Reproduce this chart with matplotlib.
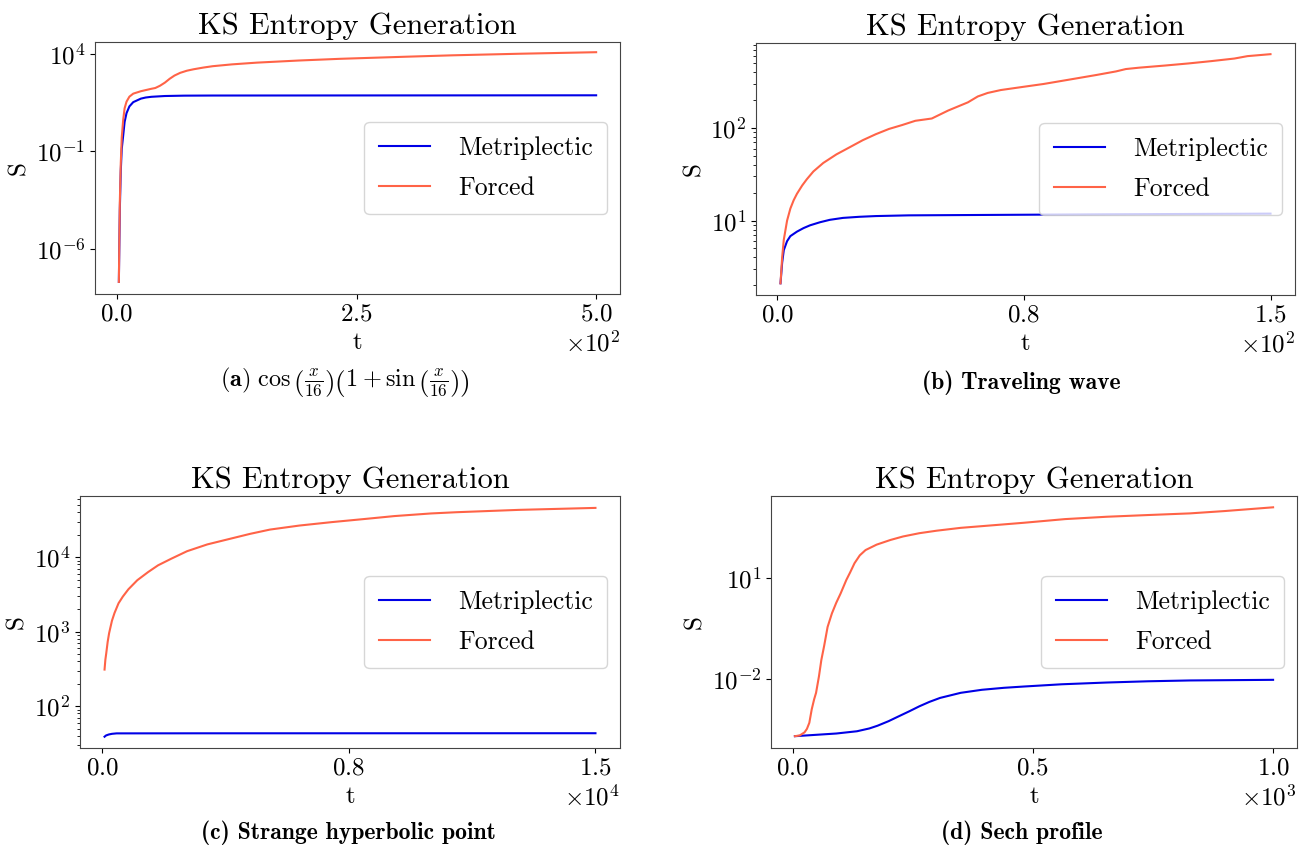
import numpy as np
import matplotlib
matplotlib.use("Agg")
import matplotlib.pyplot as plt
from matplotlib.ticker import ScalarFormatter, NullLocator

plt.rcParams['font.family'] = 'serif'
plt.rcParams['font.serif'] = ['cmr10']
plt.rcParams['mathtext.fontset'] = 'cm'
plt.rcParams['axes.formatter.use_mathtext'] = True
plt.rcParams['axes.unicode_minus'] = False

# (a) cos(x/16)(1+sin(x/16))
t_a_forced = [2, 2.5, 3, 4, 5, 6.5, 8, 10, 13, 17, 25, 36, 40, 45, 50, 55, 60, 66, 73, 80,
              90, 100, 120, 146, 190, 233, 300, 350, 420, 500]
S_a_forced = [2e-8, 3e-6, 2.5e-4, 0.025, 0.5, 4, 16, 35, 63, 90, 120, 160, 175, 230, 330,
              520, 760, 1050, 1350, 1600, 1950, 2300, 2850, 3500, 4500, 5500, 7000, 8300,
              10000, 12000]
t_a_metri = [2, 2.5, 3, 4, 5, 6.5, 8, 10, 13, 17, 25, 30, 36, 50, 70, 100, 500]
S_a_metri = [2e-8, 1.6e-6, 1e-4, 0.01, 0.13, 0.63, 3.2, 9, 20, 33, 50, 57, 62, 68, 71, 72, 74]

# (b) traveling wave
t_b_forced = [1, 1.5, 2, 3, 4, 5, 6, 7.6, 9, 11, 14, 18, 22, 26, 30, 34, 38, 42, 47, 52,
              58, 61, 64, 68, 75, 81, 90, 97, 103, 106, 110, 118, 125, 132, 139, 143, 150]
S_b_forced = [2.1, 4, 6.2, 10, 13.5, 16.6, 19.5, 24, 28, 34, 42, 52, 62, 74, 86, 98, 108,
              120, 127, 155, 190, 220, 240, 258, 280, 300, 340, 375, 410, 435, 450, 475,
              500, 530, 565, 600, 630]
t_b_metri = [1, 1.5, 2, 3, 4, 6, 8, 10, 13, 16, 20, 25, 30, 40, 60, 100, 150]
S_b_metri = [2.1, 3.5, 4.8, 6.0, 6.8, 7.6, 8.3, 8.9, 9.6, 10.2, 10.7, 11.0, 11.2, 11.4,
             11.5, 11.7, 11.9]

# (c) strange hyperbolic point
t_c_forced = [75, 100, 126, 170, 214, 300, 378, 500, 630, 800, 1071, 1400, 1702, 2100,
              2584, 3200, 3845, 4500, 5105, 6000, 6996, 8000, 8887, 10000, 10777, 12668, 15000]
S_c_forced = [310, 420, 510, 730, 955, 1400, 1780, 2400, 2950, 3700, 4900, 6300, 7760, 9500,
              12000, 14800, 17400, 20500, 23400, 26500, 29500, 32500, 35500, 38500, 40000,
              43000, 45700]
t_c_metri = [75, 120, 200, 300, 441, 3000, 15000]
S_c_metri = [39, 40.5, 41.7, 42.6, 43.2, 43.3, 43.4]

# (d) sech profile
t_d_forced = [5, 15, 25, 30, 35, 40, 45, 49, 55, 60, 66, 73, 82, 91, 100, 112, 120, 129,
              140, 152, 175, 204, 230, 264, 300, 350, 420, 481, 567, 654, 740, 827, 900, 1000]
S_d_forced = [2e-4, 2.1e-4, 2.6e-4, 3.3e-4, 5e-4, 1.26e-3, 2.5e-3, 3.9e-3, 0.012, 0.037,
              0.1, 0.355, 0.9, 1.86, 3.5, 8.9, 15, 28, 48, 69, 100, 138, 175, 219, 260, 316,
              380, 447, 575, 676, 760, 851, 1000, 1290]
t_d_metri = [5, 50, 91, 134, 160, 177, 200, 221, 243, 264, 285, 307, 350, 394, 440, 481,
             560, 654, 740, 827, 1000]
S_d_metri = [2e-4, 2.2e-4, 2.4e-4, 2.8e-4, 3.4e-4, 4.1e-4, 5.6e-4, 7.8e-4, 1.1e-3, 1.55e-3,
             2.1e-3, 2.75e-3, 3.9e-3, 4.8e-3, 5.5e-3, 6.0e-3, 7.0e-3, 7.9e-3, 8.6e-3,
             9.1e-3, 9.5e-3]

captions = [r"$\mathbf{(a)}\ \cos\left(\frac{x}{16}\right)\left(1+\sin\left(\frac{x}{16}\right)\right)$",
            "(b) Traveling wave", "(c) Strange hyperbolic point", "(d) Sech profile"]


class OneDecimal(ScalarFormatter):
    def _set_format(self):
        self.format = r'$\mathdefault{%1.1f}$'


W, H = 1299, 848
fig = plt.figure(figsize=(W / 100, H / 100), dpi=100)

# left, right, top, bottom in pixels
boxes = [(95, 620, 42, 294), (756, 1295, 43, 295), (80, 620, 496, 748), (771, 1297, 496, 748)]
panels = [
    (t_a_metri, S_a_metri, t_a_forced, S_a_forced, 500, (4.8e-9, 4e4), [1e-6, 1e-1, 1e4], False),
    (t_b_metri, S_b_metri, t_b_forced, S_b_forced, 150, (1.57, 832), [1e1, 1e2], True),
    (t_c_metri, S_c_metri, t_c_forced, S_c_forced, 15000, (27.5, 66000), [1e2, 1e3, 1e4], True),
    (t_d_metri, S_d_metri, t_d_forced, S_d_forced, 1000, (8.9e-5, 2800), [1e-2, 1e1], False),
]
cap_pos = [(345, 383), (1021, 383), (348, 833), (1022, 833)]

for i, (tm, sm, tf, sf, tmax, ylim, yt, minor) in enumerate(panels):
    l, r, tp, b = boxes[i]
    ax = fig.add_axes([l / W, 1 - b / H, (r - l) / W, (b - tp) / H])
    ax.plot(tm, sm, color='#0000e6', lw=1.5, label='Metriplectic')
    ax.plot(tf, sf, color='tomato', lw=1.5, label='Forced')
    ax.set_yscale('log')
    ax.set_ylim(*ylim)
    ax.set_yticks(yt)
    if not minor:
        ax.yaxis.set_minor_locator(NullLocator())
    ax.set_xticks(np.linspace(0, tmax, 3))
    fmt = OneDecimal(useMathText=True)
    fmt.set_powerlimits((0, 0))
    ax.xaxis.set_major_formatter(fmt)
    ax.xaxis.get_offset_text().set_fontsize(18)
    ax.tick_params(labelsize=18)
    for sp in ax.spines.values():
        sp.set_color('#444444')
    ax.set_xlabel('t', fontsize=18)
    ax.set_ylabel('S', fontsize=18)
    ax.set_title('KS Entropy Generation', fontsize=22)
    ax.legend(loc='center right', fontsize=18.5, handletextpad=1.1, labelspacing=0.65,
              borderpad=0.55)
    cx, cy = cap_pos[i]
    if i == 0:
        fig.text(cx / W, 1 - cy / H, captions[i], ha='center', va='center', fontsize=17.5)
    else:
        fig.text(cx / W, 1 - cy / H, captions[i], ha='center', va='center', fontsize=17,
                 family='cmb10')

fig.savefig('out.png', dpi=100)
